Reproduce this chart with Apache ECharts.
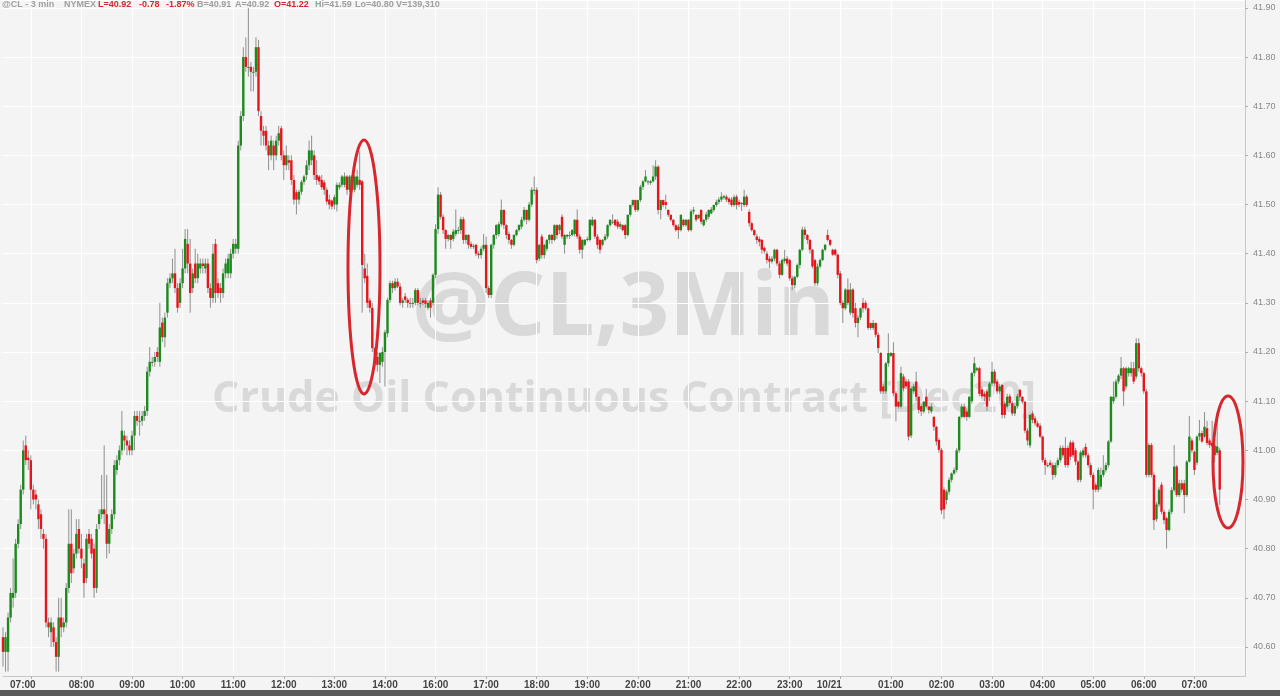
<!DOCTYPE html>
<html><head><meta charset="utf-8">
<script src="https://cdn.jsdelivr.net/npm/echarts@6/dist/echarts.min.js"></script>
<style>html,body{margin:0;padding:0;background:#f4f4f4}#c{width:1280px;height:696px}</style>
</head><body><div id="c"></div>
<script>
// 3-minute bars, rows are [open, close, low, high]
// Session 1: 06:27 - 14:57
const session1 = [
[40.62,40.59,40.56,40.64],[40.59,40.62,40.55,40.63],[40.59,40.66,40.55,40.67],[40.66,40.71,40.65,40.72],[40.70,40.71,40.68,40.78],
[40.71,40.81,40.70,40.82],[40.81,40.85,40.80,40.86],[40.85,40.92,40.84,40.93],[40.92,41.00,40.91,41.02],[41.01,40.98,40.97,41.03],
[40.985,40.98,40.96,41.00],[40.98,40.92,40.88,40.99],[40.92,40.90,40.89,40.93],[40.91,40.90,40.88,40.92],[40.89,40.86,40.84,40.90],
[40.87,40.84,40.82,40.88],[40.83,40.82,40.80,40.84],[40.82,40.65,40.64,40.83],[40.65,40.64,40.62,40.66],[40.63,40.65,40.60,40.66],
[40.64,40.61,40.60,40.65],[40.61,40.58,40.55,40.62],[40.58,40.66,40.55,40.70],[40.66,40.64,40.62,40.70],[40.64,40.65,40.63,40.66],
[40.65,40.72,40.64,40.73],[40.72,40.81,40.71,40.88],[40.81,40.75,40.73,40.88],[40.76,40.79,40.75,40.80],[40.79,40.83,40.78,40.86],
[40.84,40.80,40.79,40.86],[40.80,40.78,40.76,40.83],[40.77,40.73,40.70,40.78],[40.74,40.82,40.73,40.83],[40.83,40.81,40.80,40.84],
[40.82,40.79,40.78,40.83],[40.80,40.72,40.70,40.81],[40.72,40.84,40.71,40.85],[40.85,40.87,40.84,40.88],[40.87,40.88,40.86,40.95],
[40.88,40.87,40.85,41.01],[40.87,40.81,40.78,40.95],[40.81,40.84,40.79,40.85],[40.84,40.87,40.83,40.88],[40.87,40.97,40.86,40.98],
[40.96,40.98,40.95,40.99],[40.98,41.00,40.97,41.01],[41.00,41.04,40.99,41.08],[41.03,41.02,41.00,41.04],[41.02,41.01,40.99,41.03],
[41.01,41.00,40.99,41.02],[41.00,41.03,40.99,41.04],[41.03,41.07,41.00,41.08],[41.07,41.06,41.05,41.08],[41.06,41.06,41.03,41.08],
[41.06,41.07,41.05,41.08],[41.07,41.08,41.06,41.09],[41.08,41.16,41.07,41.17],[41.16,41.18,41.15,41.21],[41.18,41.18,41.17,41.19],
[41.18,41.19,41.17,41.20],[41.20,41.19,41.18,41.21],[41.18,41.25,41.17,41.30],[41.26,41.23,41.22,41.27],[41.23,41.27,41.21,41.28],
[41.28,41.34,41.27,41.35],[41.34,41.35,41.33,41.36],[41.35,41.36,41.34,41.39],[41.36,41.33,41.32,41.41],[41.33,41.29,41.28,41.34],
[41.30,41.34,41.29,41.35],[41.34,41.37,41.33,41.41],[41.37,41.43,41.36,41.45],[41.42,41.38,41.36,41.45],[41.38,41.32,41.28,41.43],
[41.33,41.36,41.32,41.37],[41.38,41.35,41.34,41.41],[41.35,41.38,41.34,41.40],[41.37,41.38,41.36,41.39],[41.38,41.375,41.36,41.39],
[41.37,41.38,41.36,41.39],[41.38,41.33,41.32,41.39],[41.33,41.31,41.29,41.34],[41.31,41.40,41.30,41.42],[41.42,41.32,41.30,41.43],
[41.34,41.32,41.31,41.35],[41.33,41.32,41.30,41.34],[41.32,41.36,41.31,41.37],[41.36,41.38,41.35,41.39],[41.36,41.39,41.35,41.40],
[41.36,41.40,41.35,41.41],[41.40,41.42,41.39,41.43],[41.41,41.42,41.40,41.43],[41.41,41.62,41.40,41.63],[41.62,41.68,41.61,41.69],
[41.68,41.80,41.67,41.82],[41.80,41.78,41.77,41.84],[41.78,41.78,41.76,41.90],[41.78,41.77,41.73,41.79],[41.77,41.77,41.73,41.78],
[41.77,41.82,41.76,41.84],[41.82,41.69,41.68,41.835],[41.68,41.65,41.62,41.69],[41.65,41.64,41.62,41.66],[41.65,41.62,41.61,41.66],
[41.62,41.60,41.57,41.63],[41.60,41.63,41.59,41.64],[41.62,41.60,41.57,41.63],[41.60,41.63,41.59,41.64],[41.63,41.645,41.62,41.66],
[41.655,41.60,41.59,41.66],[41.60,41.58,41.55,41.61],[41.58,41.60,41.57,41.62],[41.59,41.585,41.57,41.60],[41.59,41.55,41.54,41.60],
[41.55,41.51,41.50,41.56],[41.525,41.51,41.48,41.53],[41.51,41.526,41.50,41.53],[41.526,41.546,41.52,41.55],[41.546,41.557,41.54,41.56],
[41.56,41.58,41.55,41.59],[41.58,41.61,41.57,41.63],[41.59,41.61,41.58,41.64],[41.60,41.56,41.55,41.61],[41.56,41.55,41.54,41.59],
[41.557,41.547,41.54,41.56],[41.55,41.535,41.53,41.56],[41.545,41.53,41.52,41.55],[41.53,41.506,41.50,41.535],[41.51,41.50,41.49,41.52],
[41.508,41.496,41.49,41.51],[41.50,41.515,41.49,41.52],[41.50,41.54,41.486,41.545],[41.535,41.54,41.53,41.545],[41.54,41.557,41.535,41.56],
[41.54,41.557,41.535,41.565],[41.557,41.53,41.52,41.56],[41.53,41.557,41.525,41.56],[41.557,41.53,41.525,41.56],[41.53,41.557,41.525,41.56],
[41.54,41.557,41.535,41.57],[41.55,41.54,41.53,41.608],[41.547,41.377,41.28,41.55],[41.37,41.35,41.34,41.40],[41.355,41.30,41.29,41.38],
[41.305,41.29,41.28,41.31],[41.29,41.208,41.20,41.30],[41.208,41.177,41.17,41.21],[41.19,41.174,41.16,41.20],[41.174,41.198,41.137,41.20],
[41.18,41.20,41.17,41.21],[41.20,41.24,41.13,41.245],[41.238,41.306,41.23,41.31],[41.306,41.34,41.30,41.345],[41.34,41.33,41.32,41.345],
[41.33,41.343,41.325,41.35],[41.343,41.333,41.33,41.35],[41.333,41.30,41.295,41.34],[41.30,41.305,41.29,41.31],[41.313,41.306,41.30,41.32],
[41.306,41.30,41.29,41.31],[41.30,41.30,41.29,41.31],[41.30,41.30,41.29,41.31],[41.30,41.326,41.295,41.33],[41.326,41.30,41.295,41.33],
[41.30,41.30,41.29,41.31],[41.305,41.30,41.295,41.31],[41.305,41.298,41.29,41.31],[41.29,41.30,41.285,41.305],[41.305,41.29,41.27,41.31],
[41.30,41.357,41.295,41.36]
];
// Session 2: 16:00 - 07:30 (next day)
const session2 = [
[41.357,41.45,41.35,41.46],[41.45,41.52,41.44,41.535],[41.52,41.475,41.47,41.525],[41.475,41.448,41.44,41.48],[41.448,41.43,41.41,41.45],
[41.43,41.438,41.425,41.44],[41.438,41.428,41.41,41.44],[41.43,41.445,41.425,41.45],[41.44,41.448,41.435,41.49],[41.448,41.448,41.44,41.455],
[41.448,41.47,41.44,41.475],[41.47,41.428,41.42,41.475],[41.428,41.438,41.42,41.44],[41.438,41.418,41.41,41.44],[41.42,41.414,41.41,41.425],
[41.416,41.416,41.41,41.42],[41.418,41.40,41.395,41.42],[41.40,41.397,41.39,41.405],[41.397,41.41,41.39,41.415],[41.41,41.418,41.405,41.44],
[41.418,41.33,41.32,41.435],[41.33,41.316,41.31,41.335],[41.316,41.418,41.31,41.42],[41.418,41.438,41.41,41.44],[41.438,41.458,41.43,41.46],
[41.44,41.46,41.435,41.465],[41.46,41.489,41.455,41.51],[41.489,41.458,41.45,41.49],[41.458,41.438,41.43,41.46],[41.44,41.428,41.42,41.445],
[41.428,41.418,41.41,41.43],[41.418,41.438,41.415,41.44],[41.438,41.448,41.435,41.45],[41.448,41.458,41.445,41.46],[41.455,41.469,41.45,41.475],
[41.469,41.489,41.465,41.495],[41.489,41.469,41.46,41.49],[41.469,41.50,41.465,41.505],[41.50,41.53,41.495,41.535],[41.53,41.53,41.52,41.557],
[41.53,41.387,41.38,41.535],[41.39,41.418,41.385,41.42],[41.435,41.397,41.39,41.44],[41.397,41.418,41.39,41.42],[41.41,41.428,41.405,41.43],
[41.428,41.438,41.42,41.44],[41.438,41.428,41.42,41.44],[41.428,41.458,41.425,41.46],[41.458,41.438,41.43,41.46],[41.448,41.458,41.44,41.46],
[41.475,41.435,41.43,41.48],[41.418,41.438,41.40,41.44],[41.435,41.438,41.43,41.44],[41.438,41.438,41.43,41.445],[41.438,41.448,41.435,41.45],
[41.44,41.469,41.435,41.47],[41.469,41.435,41.43,41.49],[41.435,41.408,41.40,41.44],[41.408,41.428,41.39,41.43],[41.418,41.428,41.415,41.43],
[41.428,41.43,41.425,41.435],[41.428,41.469,41.425,41.47],[41.458,41.469,41.455,41.475],[41.469,41.435,41.43,41.47],[41.435,41.418,41.41,41.44],
[41.428,41.408,41.40,41.43],[41.418,41.428,41.415,41.43],[41.428,41.435,41.425,41.44],[41.435,41.458,41.43,41.46],[41.458,41.469,41.455,41.47],
[41.465,41.465,41.46,41.48],[41.469,41.458,41.455,41.47],[41.465,41.455,41.45,41.47],[41.455,41.46,41.45,41.465],[41.458,41.448,41.445,41.46],
[41.458,41.438,41.43,41.46],[41.438,41.479,41.435,41.48],[41.479,41.499,41.475,41.50],[41.499,41.509,41.495,41.51],[41.509,41.489,41.485,41.51],
[41.489,41.509,41.485,41.51],[41.509,41.536,41.505,41.54],[41.536,41.547,41.53,41.55],[41.547,41.557,41.545,41.57],[41.547,41.547,41.54,41.55],
[41.544,41.547,41.54,41.55],[41.547,41.557,41.545,41.58],[41.557,41.577,41.55,41.59],[41.577,41.489,41.48,41.58],[41.489,41.509,41.47,41.51],
[41.509,41.499,41.495,41.51],[41.505,41.499,41.49,41.52],[41.489,41.479,41.475,41.49],[41.479,41.469,41.465,41.48],[41.469,41.458,41.455,41.47],
[41.458,41.448,41.445,41.46],[41.455,41.448,41.43,41.46],[41.448,41.479,41.445,41.48],[41.469,41.458,41.455,41.47],[41.458,41.469,41.455,41.47],
[41.469,41.448,41.445,41.47],[41.448,41.486,41.445,41.49],[41.486,41.489,41.48,41.495],[41.479,41.469,41.465,41.48],[41.472,41.479,41.47,41.48],
[41.489,41.465,41.46,41.49],[41.458,41.469,41.455,41.47],[41.469,41.48,41.465,41.485],[41.475,41.489,41.47,41.49],[41.482,41.49,41.48,41.495],
[41.489,41.499,41.485,41.50],[41.499,41.505,41.495,41.51],[41.505,41.51,41.50,41.515],[41.51,41.516,41.505,41.525],[41.514,41.517,41.51,41.52],
[41.516,41.51,41.505,41.52],[41.512,41.505,41.50,41.515],[41.51,41.499,41.495,41.515],[41.499,41.515,41.495,41.52],[41.516,41.499,41.49,41.52],
[41.505,41.50,41.495,41.51],[41.503,41.503,41.487,41.505],[41.499,41.516,41.495,41.53],[41.516,41.499,41.495,41.52],[41.485,41.462,41.455,41.49],
[41.462,41.448,41.445,41.465],[41.448,41.438,41.435,41.45],[41.435,41.428,41.42,41.44],[41.43,41.424,41.415,41.435],[41.428,41.408,41.40,41.43],
[41.412,41.405,41.40,41.415],[41.40,41.387,41.38,41.405],[41.39,41.384,41.37,41.395],[41.384,41.39,41.38,41.395],[41.39,41.408,41.385,41.41],
[41.408,41.38,41.375,41.41],[41.38,41.357,41.35,41.385],[41.357,41.387,41.355,41.39],[41.385,41.39,41.38,41.408],[41.39,41.38,41.375,41.395],
[41.387,41.35,41.345,41.39],[41.35,41.336,41.326,41.355],[41.336,41.353,41.33,41.355],[41.353,41.377,41.35,41.38],[41.377,41.408,41.37,41.41],
[41.408,41.449,41.405,41.455],[41.449,41.438,41.43,41.455],[41.438,41.428,41.42,41.44],[41.428,41.408,41.40,41.43],[41.408,41.374,41.37,41.41],
[41.387,41.34,41.335,41.39],[41.34,41.374,41.335,41.38],[41.374,41.387,41.37,41.39],[41.387,41.408,41.385,41.41],[41.408,41.418,41.405,41.42],
[41.438,41.428,41.425,41.449],[41.428,41.418,41.415,41.43],[41.408,41.398,41.395,41.41],[41.408,41.398,41.395,41.41],[41.398,41.357,41.35,41.40],
[41.36,41.30,41.295,41.365],[41.30,41.289,41.259,41.305],[41.289,41.327,41.285,41.33],[41.327,41.30,41.295,41.35],[41.28,41.327,41.275,41.34],
[41.327,41.279,41.27,41.33],[41.289,41.259,41.25,41.30],[41.259,41.27,41.23,41.275],[41.27,41.289,41.265,41.29],[41.30,41.289,41.28,41.31],
[41.30,41.289,41.285,41.305],[41.289,41.249,41.245,41.29],[41.259,41.249,41.245,41.26],[41.249,41.259,41.245,41.265],[41.259,41.235,41.23,41.26],
[41.235,41.208,41.198,41.24],[41.198,41.12,41.115,41.20],[41.13,41.12,41.115,41.135],[41.12,41.177,41.115,41.18],[41.177,41.198,41.17,41.238],
[41.192,41.198,41.19,41.20],[41.198,41.116,41.11,41.22],[41.116,41.089,41.059,41.12],[41.099,41.089,41.085,41.10],[41.089,41.157,41.085,41.17],
[41.15,41.126,41.12,41.155],[41.14,41.13,41.125,41.145],[41.14,41.028,41.02,41.145],[41.03,41.126,41.025,41.13],[41.12,41.13,41.115,41.135],
[41.14,41.109,41.10,41.16],[41.109,41.082,41.075,41.11],[41.09,41.079,41.07,41.095],[41.079,41.099,41.075,41.10],[41.109,41.089,41.085,41.125],
[41.089,41.082,41.075,41.09],[41.079,41.089,41.075,41.095],[41.068,41.048,41.04,41.07],[41.048,41.018,41.01,41.05],[41.021,41.001,40.995,41.025],
[41.001,40.878,40.87,41.005],[40.92,40.88,40.86,40.925],[40.899,40.916,40.89,40.92],[40.916,40.94,40.91,40.945],[40.94,40.953,40.935,40.955],
[40.953,40.96,40.95,40.965],[40.96,41.00,40.955,41.005],[41.00,41.068,40.995,41.07],[41.068,41.089,41.065,41.095],[41.089,41.068,41.065,41.095],
[41.079,41.068,41.06,41.085],[41.068,41.109,41.065,41.11],[41.10,41.157,41.095,41.16],[41.157,41.177,41.15,41.19],[41.163,41.167,41.16,41.17],
[41.167,41.115,41.11,41.17],[41.124,41.11,41.105,41.13],[41.115,41.109,41.10,41.12],[41.12,41.089,41.08,41.125],[41.109,41.136,41.10,41.14],
[41.136,41.16,41.13,41.18],[41.16,41.136,41.13,41.165],[41.14,41.12,41.115,41.145],[41.12,41.13,41.115,41.135],[41.133,41.072,41.065,41.135],
[41.095,41.072,41.065,41.10],[41.089,41.109,41.085,41.115],[41.11,41.096,41.09,41.115],[41.096,41.075,41.07,41.10],[41.075,41.09,41.07,41.095],
[41.09,41.11,41.085,41.115],[41.123,41.109,41.10,41.125],[41.109,41.099,41.095,41.11],[41.099,41.04,41.035,41.10],[41.04,41.02,41.01,41.045],
[41.01,41.072,41.005,41.075],[41.075,41.062,41.055,41.08],[41.065,41.055,41.05,41.07],[41.055,41.048,41.045,41.06],[41.05,41.028,41.025,41.055],
[41.028,40.98,40.975,41.03],[40.98,40.97,40.95,40.985],[40.97,40.97,40.965,40.975],[40.975,40.97,40.965,40.98],[40.97,40.95,40.94,40.975],
[40.95,40.97,40.945,40.975],[40.97,40.98,40.965,40.985],[40.98,41.005,40.975,41.01],[41.005,40.99,40.985,41.01],[41.005,40.97,40.965,41.027],
[41.005,40.97,40.965,41.01],[41.016,40.987,40.98,41.02],[41.016,40.99,40.985,41.02],[41.0,40.977,40.97,41.005],[40.977,40.94,40.935,40.98],
[40.94,40.996,40.935,41.0],[40.99,41.0,40.985,41.005],[41.007,40.99,40.985,41.014],[40.99,40.97,40.965,40.995],[40.97,40.95,40.945,40.975],
[40.95,40.92,40.88,40.955],[40.93,40.92,40.915,40.935],[40.92,40.96,40.915,40.965],[40.926,40.95,40.92,40.965],[40.95,40.96,40.945,40.99],
[40.96,40.97,40.955,40.975],[40.97,41.018,40.965,41.021],[41.018,41.109,41.015,41.11],[41.10,41.109,41.095,41.14],[41.109,41.14,41.105,41.145],
[41.14,41.152,41.135,41.155],[41.152,41.167,41.145,41.19],[41.167,41.12,41.09,41.17],[41.13,41.167,41.125,41.17],[41.157,41.167,41.15,41.17],
[41.157,41.167,41.15,41.18],[41.167,41.14,41.135,41.18],[41.15,41.218,41.145,41.228],[41.218,41.167,41.16,41.228],[41.167,41.157,41.15,41.17],
[41.157,41.12,41.115,41.16],[41.12,40.95,40.945,41.125],[40.95,41.011,40.945,41.015],[41.011,40.95,40.945,41.015],[40.95,40.858,40.838,40.955],
[40.86,40.89,40.855,40.895],[40.89,40.92,40.885,40.925],[40.93,40.875,40.87,40.935],[40.875,40.858,40.85,40.88],[40.862,40.838,40.80,40.865],
[40.838,40.875,40.835,40.88],[40.875,40.919,40.87,40.925],[40.919,40.967,40.915,41.011],[40.967,40.909,40.905,40.97],[40.909,40.933,40.905,40.94],
[40.933,40.92,40.915,40.94],[40.933,40.909,40.872,40.94],[40.909,40.977,40.905,40.98],[40.977,41.028,40.975,41.07],[41.02,41.0,40.995,41.025],
[40.997,40.96,40.95,41.0],[40.975,41.028,40.97,41.03],[41.028,41.035,41.02,41.062],[41.035,41.018,41.015,41.04],[41.028,41.048,41.025,41.078],
[41.045,41.015,41.01,41.06],[41.02,41.011,41.005,41.025],[41.015,41.008,41.0,41.06],[41.01,40.99,40.975,41.015],[40.995,41.008,40.99,41.078],
[41.0,40.92,40.889,41.005]
];
const emptySlots = 10;               // room on the right after the last bar
const session1Start = [6, 27];        // first bar time
const session2Start = [16, 0];        // reopening after the 15:00 halt
const dayChangeLabel = '10/21';
const headerItems = [
  ['@CL - 3 min', '#a0a0a0', 2], ['NYMEX', '#a0a0a0', 64], ['L=40.92', '#d8262c', 98], ['-0.78', '#d8262c', 139],
  ['-1.87%', '#d8262c', 166], ['B=40.91', '#a0a0a0', 197], ['A=40.92', '#a0a0a0', 235], ['O=41.22', '#d8262c', 274],
  ['Hi=41.59', '#a0a0a0', 315], ['Lo=40.80', '#a0a0a0', 355], ['V=139,310', '#a0a0a0', 396]
];

function pad(n){return (n<10?'0':'')+n;}
function times(start, count){
  const out=[]; let m=start[0]*60+start[1];
  for(let i=0;i<count;i++){ const t=(m+3*i)%1440; out.push(pad(Math.floor(t/60))+':'+pad(t%60)); }
  return out;
}
const bars = session1.concat(session2);
const categories = times(session1Start, session1.length)
  .concat(times(session2Start, session2.length + emptySlots));
const data = bars.map((b,i)=>[i,b[0],b[1],b[2],b[3]]);
const lastIdx = categories.length - 1;
const firstHour = categories.findIndex(v => v.endsWith(':00'));
const showTick = (i) => i !== lastIdx && categories[i].endsWith(':00');

const chart = echarts.init(document.getElementById('c'), null, {renderer:'canvas'});
const GREEN = '#1c8a1c', RED = '#e8141b', WICK = '#8f8f8f';
chart.setOption({
  backgroundColor: '#f4f4f4',
  animation: false,
  grid: {left: 3, right: 35, top: 0, bottom: 20, show: false},
  xAxis: {
    type: 'category', data: categories, boundaryGap: false,
    axisLine: {show: true, lineStyle: {color: '#c8c8c8'}},
    axisTick: {show: true, interval: showTick, length: 3, lineStyle: {color: '#b0b0b0'}},
    axisLabel: {interval: showTick,
      formatter: (v, i) => i === firstHour ? '{a|' + v + '}' : (v === '00:00' ? '{b|' + dayChangeLabel + '}' : v),
      rich: {a: {padding: [0, 16, 0, 0], color: '#444', fontSize: 10, fontWeight: 'bold'},
             b: {padding: [0, 22, 0, 0], color: '#444', fontSize: 10, fontWeight: 'bold'}},
      color: '#444', fontSize: 10, fontWeight: 'bold', fontFamily: 'Liberation Sans, Arial', margin: 4},
    splitLine: {show: true, interval: showTick, lineStyle: {color: '#ffffff', width: 1}}
  },
  yAxis: {
    type: 'value', position: 'right', min: 40.541, max: 41.916, splitNumber: 14, scale: true,
    axisLine: {show: true, lineStyle: {color: '#c8c8c8'}},
    axisTick: {show: true, length: 3, lineStyle: {color: '#b0b0b0'}},
    axisLabel: {formatter: v => v.toFixed(2), color: '#888', fontSize: 9, fontFamily: 'Liberation Sans, Arial',
      showMinLabel: false, showMaxLabel: false, margin: 8},
    splitLine: {show: true, lineStyle: {color: '#ffffff', width: 1}}
  },
  graphic: [
    {type: 'text', left: 412, top: 267, z: 0, silent: true,
      style: {text: '@CL,3Min', fill: '#d9d9d9', font: 'bold 87px "Open Sans", "Liberation Sans", Arial'}},
    {type: 'text', left: 212, top: 378, z: 0, silent: true,
      style: {text: 'Crude Oil Continuous Contract [Dec20]', fill: '#d9d9d9', font: 'bold 43px "Open Sans", "Liberation Sans", Arial'}},
    ...headerItems.map(h => ({type: 'text', x: h[2], y: 0, z: 10, silent: true,
      style: {text: h[0], fill: h[1], font: 'bold 9px "Liberation Sans", Arial', textVerticalAlign: 'top'}})),
    {type: 'ellipse', z: 10, silent: true, shape: {cx: 364, cy: 267, rx: 16, ry: 127},
      style: {fill: 'none', stroke: '#d8262c', lineWidth: 3}},
    {type: 'ellipse', z: 10, silent: true, shape: {cx: 1228, cy: 462, rx: 15, ry: 66},
      style: {fill: 'none', stroke: '#d8262c', lineWidth: 3}},
    {type: 'rect', z: 10, silent: true, shape: {x: 0, y: 690, width: 1280, height: 6}, style: {fill: '#5a5a5a'}}
  ],
  series: [{
    type: 'custom', z: 5, clip: false,
    encode: {x: 0, y: [1,2,3,4]},
    data: data,
    renderItem: function(params, api){
      const x = api.value(0), o = api.value(1), c = api.value(2), l = api.value(3), h = api.value(4);
      const pO = api.coord([x,o]), pC = api.coord([x,c]), pL = api.coord([x,l]), pH = api.coord([x,h]);
      const w = api.size([1,0])[0]*0.95;
      const top = Math.min(pO[1],pC[1]), bot = Math.max(pO[1],pC[1]);
      return {type: 'group', children: [
        {type: 'line', shape: {x1: pO[0], y1: pH[1], x2: pO[0], y2: pL[1]}, style: {stroke: WICK, lineWidth: 1}},
        {type: 'rect', shape: {x: pO[0]-w/2, y: top, width: w, height: Math.max(bot-top, 1)},
          style: {fill: c >= o ? GREEN : RED}}
      ]};
    }
  }]
});
</script></body></html>
